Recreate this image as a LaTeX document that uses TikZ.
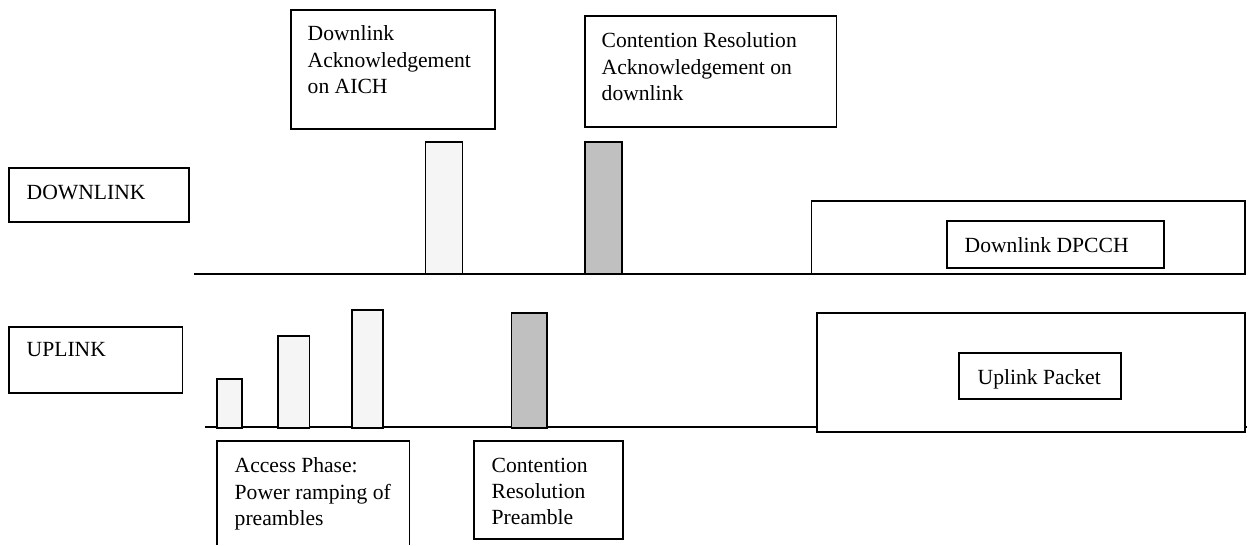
\documentclass[tikz,border=0pt]{standalone}
\usepackage{fontspec}
\setmainfont{Liberation Serif}

\definecolor{pulselight}{HTML}{F5F5F5}
\definecolor{pulsedark}{HTML}{C0C0C0}

\begin{document}
\begin{tikzpicture}[%
       x=0.02cm,
       y=-0.02cm,
       line width=0.8pt,
       box/.style={draw, fill=white},
       lightpulse/.style={draw, fill=pulselight},
       darkpulse/.style={draw, fill=pulsedark},
       txt/.style={anchor=north west, inner sep=0pt, align=left,
                   font=\fontsize{12.3}{15}\selectfont}
     ]
     \useasboundingbox (0,0) rectangle (1250,545);

     % time axes
     \coordinate (dlstart) at (194,274);
     \coordinate (dlend)   at (1245,274);
     \coordinate (ulstart) at (205,427);
     \coordinate (ulend)   at (1247,427);
     \draw (dlstart) -- (dlend);
     \draw (ulstart) -- (ulend);

     % downlink pulses
     \draw[lightpulse] (425.5,274) rectangle (462.5,142);
     \draw[darkpulse]  (585,274)   rectangle (622,142);

     % uplink pulses
     \draw[lightpulse] (217,428) rectangle (242,379);
     \draw[lightpulse] (278,428) rectangle (309.5,336);
     \draw[lightpulse] (352,428) rectangle (383,310);
     \draw[darkpulse]  (511.5,428) rectangle (547,313);

     % channel names
     \draw[box] (9,168) rectangle (189,222);
     \node[txt] (dl) at (26,184) {DOWNLINK};
     \draw[box] (9,327) rectangle (182.5,393);
     \node[txt] (ul) at (26,342) {UPLINK};

     % upper notes
     \draw[box] (291,10) rectangle (495,129);
     \node[txt] (aich) at (307,25) {Downlink\\Acknowledgement\\on AICH};
     \draw[box] (585,16) rectangle (836.5,127);
     \node[txt] (crack) at (601,32) {Contention Resolution\\Acknowledgement on\\downlink};

     % dedicated channels
     \draw[box] (811.5,201) rectangle (1245,274);
     \draw[box] (947,221) rectangle (1164,268);
     \node[txt] (dpcch) at (964,237) {Downlink DPCCH};
     \draw[box] (817,313) rectangle (1245,432);
     \draw[box] (959,353) rectangle (1121,399);
     \node[txt] (packet) at (977,369) {Uplink Packet};

     % lower notes
     \draw (217,545) -- (217,441) -- (409.5,441) -- (409.5,545);
     \node[txt] (access) at (234,457) {Access Phase:\\Power ramping of\\preambles};
     \draw[box] (474,441) rectangle (623,539);
     \node[txt] (crpre) at (491,457) {Contention\\Resolution\\Preamble};
\end{tikzpicture}
\end{document}
